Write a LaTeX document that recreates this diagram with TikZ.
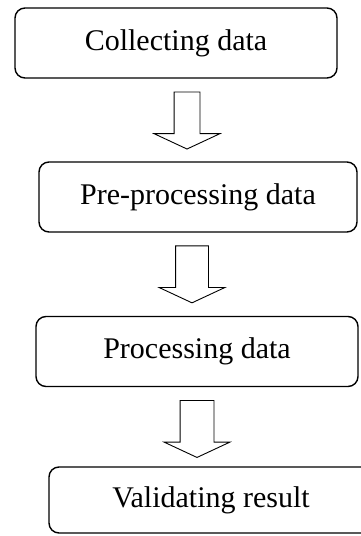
\documentclass[tikz,border=0pt]{standalone}
\usepackage{fontspec}
\setmainfont{Liberation Serif}
\usetikzlibrary{shapes.arrows}
\tikzset{
  stagebox/.style={draw, line width=1.4pt, rounded corners=10pt, align=center,
    minimum width=#1, minimum height=70pt, inner sep=0pt,
    font=\fontsize{30}{35}\selectfont},
  downarrow/.style={draw, line width=0.9pt, shape=single arrow, rotate=-90,
    single arrow head extend=32.5pt-#1, single arrow tip angle=130,
    minimum height=57pt, inner xsep=0pt, inner ysep=#1},
}

\begin{document}
\begin{tikzpicture}[x=1pt, y=-1pt]

    \useasboundingbox (0,0) rectangle (360,536);

    % Stages
    \node (s0) [stagebox=322pt] at (176,43)    {Collecting data};
    \node (s1) [stagebox=318pt] at (198,197)   {Pre-processing data};
    \node (s2) [stagebox=322pt] at (197,351.5) {Processing data};
    \node (s3) [stagebox=324pt, minimum height=66pt] at (211,500) {Validating result};

    % Block arrows between stages
    \node (a0) [downarrow=12.5pt] at (187,117.5) {};
    \node (a1) [downarrow=16pt]   at (192,270.5) {};
    \node (a2) [downarrow=16.5pt] at (197,425)   {};

\end{tikzpicture}
\end{document}
